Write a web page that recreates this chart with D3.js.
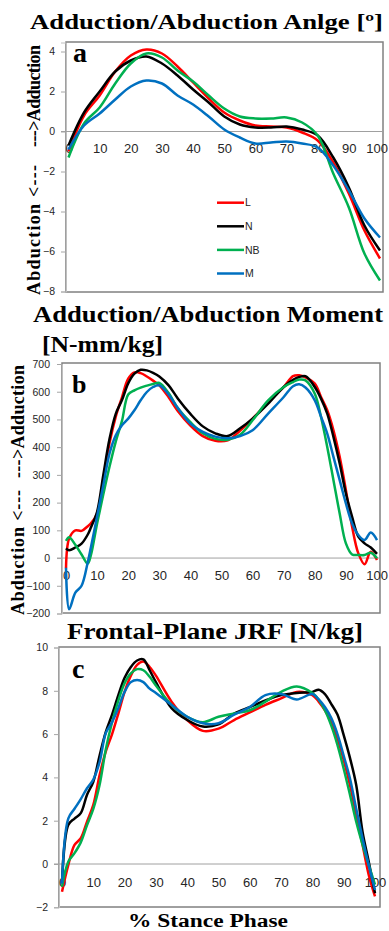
<!DOCTYPE html>
<html>
<head>
<meta charset="utf-8">
<script src="https://cdn.jsdelivr.net/npm/d3@7"></script>
<style>
  html, body { margin: 0; padding: 0; background: #fff; }
  svg { display: block; }
  .tick text { font-family: "Liberation Sans", Arial, sans-serif; fill: #262626; }
  .serif { font-family: "Liberation Serif", "Times New Roman", serif; font-weight: bold; fill: #000; }
</style>
</head>
<body>
<svg id="chart" width="389" height="931"></svg>
<script>
const seriesNames = ['L', 'N', 'NB', 'M'];
const seriesColors = ['#ff0000', '#000000', '#00b050', '#0070c0'];
const stanceTicks = [0, 10, 20, 30, 40, 50, 60, 70, 80, 90, 100];

// a: adduction/abduction angle [deg]
const stanceA = [0, 5, 10, 15, 20, 25, 30, 35, 40, 45, 50, 55, 60, 65, 70, 75, 80, 85, 90, 95, 100];
const angleL  = [-1.0, 0.8, 1.8, 3.0, 3.8, 4.1, 3.9, 3.25, 2.45, 1.65, 0.95, 0.55, 0.3, 0.25, 0.2, -0.05, -0.45, -1.55, -3.1, -4.95, -6.35];
const angleN  = [-0.7, 0.95, 2.0, 3.0, 3.55, 3.75, 3.4, 2.8, 2.1, 1.45, 0.75, 0.35, 0.2, 0.2, 0.25, 0.1, -0.2, -1.3, -2.8, -4.7, -5.95];
const angleNB = [-1.3, 0.4, 1.2, 2.4, 3.4, 3.9, 3.7, 3.05, 2.5, 1.8, 1.15, 0.75, 0.65, 0.65, 0.7, 0.45, -0.2, -2.1, -3.8, -6.1, -7.45];
const angleM  = [-0.9, 0.3, 0.9, 1.6, 2.25, 2.55, 2.4, 1.8, 1.35, 0.75, 0.1, -0.3, -0.6, -0.55, -0.5, -0.6, -0.8, -1.7, -2.95, -4.35, -5.3];
const angleTicks = [-8, -6, -4, -2, 0, 2, 4];

// b: adduction/abduction moment [N-mm/kg]
const stanceB = [0, 1, 3, 5, 7, 8, 10, 12, 14, 16, 18, 20, 22, 24, 26, 28, 30, 33, 36, 40, 44, 48, 52, 56, 60, 65, 70, 73, 75, 77, 80, 82, 84, 86, 88, 90, 92, 94, 96, 98, 100];
const momentL  = [-37, 70, 100, 98, 115, 125, 160, 285, 415, 510, 580, 647, 670, 667, 655, 640, 623, 580, 530, 478, 440, 423, 425, 460, 503, 563, 617, 656, 659, 652, 629, 581, 533, 461, 365, 245, 113, 17, -22, 23, -7];
const momentN  = [35, 28, 38, 52, 85, 110, 167, 300, 430, 520, 570, 630, 665, 679, 677, 668, 655, 623, 575, 520, 475, 450, 440, 468, 503, 557, 617, 643, 653, 656, 617, 575, 521, 437, 341, 233, 149, 77, 53, 38, 15];
const momentNB = [62, 75, 48, 13, -20, 10, 125, 230, 330, 420, 495, 590, 605, 615, 622, 628, 632, 595, 540, 490, 450, 430, 427, 445, 497, 569, 617, 635, 644, 641, 593, 509, 401, 281, 161, 53, 13, 11, 11, 19, -1];
const momentM  = [-35, -185, -125, -100, -15, 38, 150, 263, 377, 443, 479, 503, 533, 569, 599, 617, 623, 590, 540, 485, 455, 438, 432, 440, 461, 521, 581, 620, 627, 615, 569, 510, 449, 365, 281, 197, 125, 83, 65, 92, 65];
const momentTicks = [-200, -100, 0, 100, 200, 300, 400, 500, 600, 700];

// c: frontal-plane JRF [N/kg]
const stanceC = [0, 2, 4, 6, 8, 10, 12, 14, 16, 18, 20, 22, 24, 26, 28, 30, 35, 40, 45, 50, 55, 60, 65, 70, 75, 80, 82, 84, 86, 88, 90, 92, 94, 96, 98, 100];
const jrfL  = [-1.28, -0.05, 0.88, 1.19, 1.96, 2.73, 4.1, 5.2, 6.0, 6.95, 7.95, 8.7, 9.2, 9.35, 9.1, 8.7, 7.5, 6.65, 6.15, 6.25, 6.65, 7.0, 7.35, 7.65, 7.95, 7.8, 7.5, 7.1, 6.55, 5.8, 4.8, 3.65, 2.25, 0.9, -0.5, -1.5];
const jrfN  = [-0.9, 1.8, 2.1, 2.35, 3.2, 3.8, 5.0, 6.1, 6.9, 7.8, 8.6, 9.1, 9.4, 9.45, 8.95, 8.4, 7.2, 6.65, 6.35, 6.45, 6.95, 7.25, 7.55, 7.8, 7.9, 7.95, 8.05, 7.85, 7.4, 6.9, 5.95, 4.9, 3.65, 1.5, 0.1, -1.35];
const jrfNB = [-1.05, 0.1, 0.5, 1.0, 1.8, 2.55, 3.65, 5.3, 6.55, 7.55, 8.35, 8.8, 9.0, 8.95, 8.65, 8.25, 7.35, 6.8, 6.55, 6.8, 6.95, 7.1, 7.5, 7.95, 8.2, 7.9, 7.6, 7.1, 6.4, 5.5, 4.4, 3.2, 1.95, 0.9, -0.05, -0.95];
const jrfM  = [-0.9, 2.1, 2.55, 3.0, 3.5, 3.9, 4.7, 6.05, 6.55, 7.2, 7.95, 8.4, 8.5, 8.4, 8.1, 7.9, 7.35, 6.8, 6.5, 6.5, 6.9, 7.25, 7.8, 7.85, 7.6, 7.85, 7.6, 7.25, 6.75, 6.0, 5.0, 3.95, 2.55, 1.2, -0.05, -1.2];
const jrfTicks = [-2, 0, 2, 4, 6, 8, 10];

const svg = d3.select('#chart');
const chartWidth = 389;

function drawPanel(p) {
    const x = d3.scaleLinear().domain([0, 100]).range(p.xRange);
    const y = d3.scaleLinear().domain(p.yDomain).range(p.yRange);
    const g = svg.append('g');

    // plot frame
    g.append('rect')
        .attr('x', p.frame[0]).attr('y', p.frame[2])
        .attr('width', p.frame[1] - p.frame[0]).attr('height', p.frame[3] - p.frame[2])
        .attr('fill', 'none').attr('stroke', '#808080').attr('stroke-width', 1.5);

    // value axis on the left edge of the frame
    const yAxis = g.append('g')
        .attr('transform', 'translate(' + p.frame[0] + ',0)')
        .call(d3.axisLeft(y).tickValues(p.yTicks).tickSize(5).tickPadding(p.yPad));
    yAxis.select('.domain').attr('stroke', '#bfbfbf');
    yAxis.selectAll('.tick line').attr('stroke', '#a6a6a6');
    yAxis.selectAll('.tick text').attr('font-size', 10.5);

    // zero line
    g.append('line')
        .attr('x1', p.frame[0] - 5).attr('x2', p.frame[1])
        .attr('y1', y(0)).attr('y2', y(0))
        .attr('stroke', '#a0a0a0').attr('stroke-width', 1);

    // stance labels hanging below the zero line
    const xAxis = g.append('g')
        .attr('transform', 'translate(0,' + y(0) + ')')
        .call(d3.axisBottom(x).tickValues(stanceTicks).tickSize(0).tickPadding(p.xPad));
    xAxis.select('.domain').remove();
    xAxis.selectAll('.tick text').attr('font-size', 13)
        .each(function(d) {
            // keep the last label inside the page
            const over = x(d) + this.getComputedTextLength() / 2 - (chartWidth - 1.5);
            if (over > 0) d3.select(this).attr('dx', -over);
        });

    const line = d3.line()
        .x((d, i) => x(p.stance[i]))
        .y(d => y(d))
        .curve(d3.curveCatmullRom.alpha(0.5));

    p.series.forEach((values, i) => {
        g.append('path')
            .datum(values)
            .attr('d', line)
            .attr('fill', 'none')
            .attr('stroke', seriesColors[i])
            .attr('stroke-width', 2.5)
            .attr('stroke-linejoin', 'round');
    });

    g.append('text').attr('class', 'serif')
        .attr('x', p.letter[0]).attr('y', p.letter[1])
        .attr('font-size', p.letter[2])
        .text(p.letter[3]);

    return { x, y, g };
}

const panelA = drawPanel({
    frame: [66, 383, 42, 292], xRange: [68.5, 380],
    yDomain: [-8, 4.45], yRange: [291.5, 42.5], yTicks: angleTicks, yPad: 6, xPad: 12.3,
    stance: stanceA, series: [angleL, angleN, angleNB, angleM],
    letter: [73, 62, 28, 'a']
});

drawPanel({
    frame: [62, 380, 363, 613], xRange: [66, 377],
    yDomain: [-200, 700], yRange: [613.5, 364], yTicks: momentTicks, yPad: 7, xPad: 12.8,
    stance: stanceB, series: [momentL, momentN, momentNB, momentM],
    letter: [72, 393, 26, 'b']
});

drawPanel({
    frame: [59, 380, 647, 907], xRange: [62, 375],
    yDomain: [-2, 10], yRange: [907.3, 647.5], yTicks: jrfTicks, yPad: 6, xPad: 13.8,
    stance: stanceC, series: [jrfL, jrfN, jrfNB, jrfM],
    letter: [72, 678, 28, 'c']
});

// legend inside panel a
const legend = panelA.g.append('g').attr('transform', 'translate(217,202.7)');
seriesNames.forEach((name, i) => {
    const row = legend.append('g').attr('transform', 'translate(0,' + (i * 23.6) + ')');
    row.append('line').attr('x1', 0).attr('x2', 27)
        .attr('stroke', seriesColors[i]).attr('stroke-width', 2.5);
    row.append('text').attr('x', 28).attr('dy', '0.35em')
        .attr('font-family', '"Liberation Sans", Arial, sans-serif')
        .attr('font-size', 10.5).attr('fill', '#262626')
        .text(name);
});

// titles
function title(txt, x, y, size, len) {
    svg.append('text').attr('class', 'serif')
        .attr('x', x).attr('y', y).attr('font-size', size)
        .attr('textLength', len).attr('lengthAdjust', 'spacingAndGlyphs')
        .text(txt);
}
title('Adduction/Abduction Anlge [º]', 30, 28.5, 22, 353);
title('Adduction/Abduction Moment', 33, 322, 23, 350);
title('[N-mm/kg]', 42, 352, 23, 121);
title('Frontal-Plane JRF [N/kg]', 67, 638.5, 23, 296);
title('% Stance Phase', 128, 927, 18, 160);

// rotated value-axis titles (a and b)
function sideTitle(bx, bottom, top, lowLen, highLen) {
    const t = svg.append('g').attr('transform', 'translate(' + bx + ',0) rotate(-90)');
    t.append('text').attr('class', 'serif')
        .attr('x', -bottom).attr('y', 0).attr('font-size', 18)
        .attr('textLength', lowLen).attr('lengthAdjust', 'spacing')
        .text('Abduction <---');
    t.append('text').attr('class', 'serif')
        .attr('x', -top).attr('y', 0).attr('font-size', 18)
        .attr('text-anchor', 'end')
        .attr('textLength', highLen).attr('lengthAdjust', 'spacing')
        .text('--->Adduction');
}
sideTitle(39.5, 295, 45, 130, 102);
sideTitle(23.5, 615, 365, 125, 113);
</script>
</body>
</html>
